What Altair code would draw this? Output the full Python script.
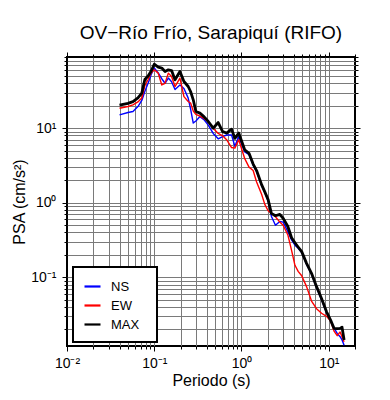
import altair as alt
import pandas as pd

# Period (s)
T = [0.04, 0.05, 0.057, 0.065, 0.072, 0.078, 0.085, 0.092, 0.1, 0.111,
     0.122, 0.133, 0.145, 0.158, 0.173, 0.197, 0.219, 0.245, 0.261, 0.28,
     0.30, 0.334, 0.371, 0.416, 0.474, 0.541, 0.608, 0.675, 0.77, 0.84,
     0.93, 1.09, 1.22, 1.36, 1.49, 1.7, 1.85, 2.02, 2.2, 2.45,
     2.75, 3.0, 3.4, 3.75, 4.1, 4.46, 4.9, 5.57, 6.35, 7.25,
     8.27, 9.44, 10.5, 11.5, 12.5, 13.5, 14.2, 15.0]

NS = [15.1, 16.2, 16.7, 19.5, 23.5, 31, 40, 52, 64, 55,
      46, 40, 47, 42, 33, 38, 34, 25.3, 18, 11.7,
      12.5, 14.3, 13, 11, 8.5, 7.2, 7.7, 8.1, 8.1, 5.7,
      7.7, 4.8, 4.4, 3.2, 2.6, 1.7, 1.38, 1.05, 0.66, 0.50,
      0.56, 0.55, 0.41, 0.317, 0.27, 0.245, 0.215, 0.15, 0.11, 0.073,
      0.05, 0.0335, 0.026, 0.021, 0.0177, 0.016, 0.0145, 0.0123]

EW = [18.5, 19.5, 20.5, 22.5, 25.3, 37, 45, 55, 60.7, 54.7,
      38, 40, 54.7, 49.3, 36.1, 46.9, 26.5, 22.8, 21.7, 17,
      15.3, 14.5, 13.5, 12.3, 10, 8.5, 7.9, 7.0, 5.5, 5.4,
      7.0, 3.9, 3.0, 2.7, 1.9, 1.3, 0.95, 0.78, 0.72, 0.65,
      0.55, 0.50, 0.37, 0.23, 0.145, 0.12, 0.105, 0.075, 0.048, 0.038,
      0.033, 0.030, 0.026, 0.019, 0.0165, 0.0185, 0.016, 0.0137]

MAX = [20.3, 21.5, 22.7, 25.5, 29.5, 45, 50, 58, 72, 66,
       64, 57.5, 60.6, 59.3, 44.5, 57.5, 42.2, 36.2, 31, 24,
       16.7, 15.9, 14.3, 12.3, 10, 11.9, 9.0, 8.6, 9.7, 7.3,
       8.6, 5.1, 4.6, 3.3, 2.7, 1.75, 1.4, 1.1, 0.72, 0.67,
       0.70, 0.62, 0.48, 0.34, 0.29, 0.255, 0.221, 0.154, 0.113, 0.075,
       0.052, 0.0345, 0.0267, 0.0207, 0.0205, 0.0207, 0.0215, 0.0144]

SERIES = ["NS", "EW", "MAX"]
COLORS = ["#0000ff", "#ff0000", "#000000"]
WIDTHS = [1.4, 1.4, 2.8]

X_DOMAIN = [0.01, 20]
Y_DOMAIN = [0.012, 90]

rows = []
for name, vals in zip(SERIES, [NS, EW, MAX]):
    for t, v in zip(T, vals):
        rows.append({"T": t, "PSA": v, "series": name})
df = pd.DataFrame(rows)

xvals = [round(k * 10 ** e, 6) for e in (-2, -1, 0) for k in range(1, 10)] + [10, 20]
yvals = [round(k * 10 ** e, 6) for e in (-2, -1, 0, 1) for k in range(1, 10)
         if Y_DOMAIN[0] <= k * 10 ** e <= Y_DOMAIN[1]]

FONT = "Liberation Sans"
major = "abs(log(datum.value)/LN10 - round(log(datum.value)/LN10)) < 0.001"
exp_ = "round(log(datum.value)/LN10)"
label_expr = (f"({major}) ? ({exp_} == -2 ? '10⁻²' : {exp_} == -1 ? '10⁻¹' : "
              f"{exp_} == 0 ? '10⁰' : '10¹') : ''")
tick_size = {"condition": {"test": major, "value": 5}, "value": 3}


def axis_main(orient, values, title, edge_test, **kw):
    return alt.Axis(
        orient=orient, values=values, labelExpr=label_expr, title=title,
        tickSize=tick_size, tickColor="black", tickWidth=1,
        grid=True, gridColor="#7a7a7a", gridWidth=1,
        gridOpacity={"condition": {"test": edge_test, "value": 0}, "value": 1},
        domain=False, labelFont=FONT, labelFontSize=14, labelColor="black",
        labelOverlap=False, labelFlush=False, labelBound=False,
        titleFont=FONT, titleFontSize=16, titleFontWeight="normal",
        titleColor="black", **kw)


def axis_frame(orient, values):
    return alt.Axis(orient=orient, values=values, labels=False, grid=False,
                    domain=False, tickSize=tick_size, tickColor="black",
                    tickWidth=1, title=None)


xscale = alt.Scale(type="log", domain=X_DOMAIN, nice=False)
yscale = alt.Scale(type="log", domain=Y_DOMAIN, nice=False)

x_enc = alt.X("T:Q", scale=xscale,
              axis=axis_main("bottom", xvals, "Periodo (s)",
                             "datum.value <= 0.0100001 || datum.value >= 19.99",
                             labelPadding=5, titlePadding=2))
y_enc = alt.Y("PSA:Q", scale=yscale,
              axis=axis_main("left", yvals, "PSA (cm/s²)",
                             "datum.value >= 89",
                             labelPadding=6, titlePadding=3))
color_enc = alt.Color(
    "series:N",
    scale=alt.Scale(domain=SERIES, range=COLORS),
    legend=alt.Legend(
        title=" ", titleOrient="right", titleFontSize=1, titlePadding=8,
        orient="none", legendX=6, legendY=210,
        symbolType="stroke", symbolSize=256, symbolStrokeWidth=2.2,
        labelFont=FONT, labelFontSize=13, labelColor="black", labelOffset=9,
        padding=10, rowPadding=2, strokeColor="black", fillColor="white",
        cornerRadius=0))

series_layers = []
for name, w in zip(SERIES, WIDTHS):
    series_layers.append(
        alt.Chart(df).transform_filter(alt.datum.series == name)
        .mark_line(strokeWidth=w, strokeJoin="round")
        .encode(x=x_enc, y=y_enc, color=color_enc)
    )
lines = alt.layer(*series_layers)

frame = alt.Chart(df).mark_line(opacity=0).encode(
    x=alt.X("T:Q", scale=xscale, axis=axis_frame("top", xvals)),
    y=alt.Y("PSA:Q", scale=yscale, axis=axis_frame("right", yvals)),
    detail="series:N",
)

chart = alt.layer(lines, frame).resolve_axis(
    x="independent", y="independent"
).properties(
    width=288, height=289,
    autosize=alt.AutoSizeParams(type="none"),
    padding={"left": 59, "top": 49, "right": 20, "bottom": 46},
    title=alt.TitleParams("OV−Río Frío, Sarapiquí (RIFO)", font=FONT,
                          fontSize=19, fontWeight="normal", color="black",
                          anchor="middle", offset=7),
    background="white",
).configure_view(stroke="black", strokeWidth=2).configure_legend(strokeWidth=2)

chart.save("out.html", embed_options={"renderer": "svg", "actions": False})
